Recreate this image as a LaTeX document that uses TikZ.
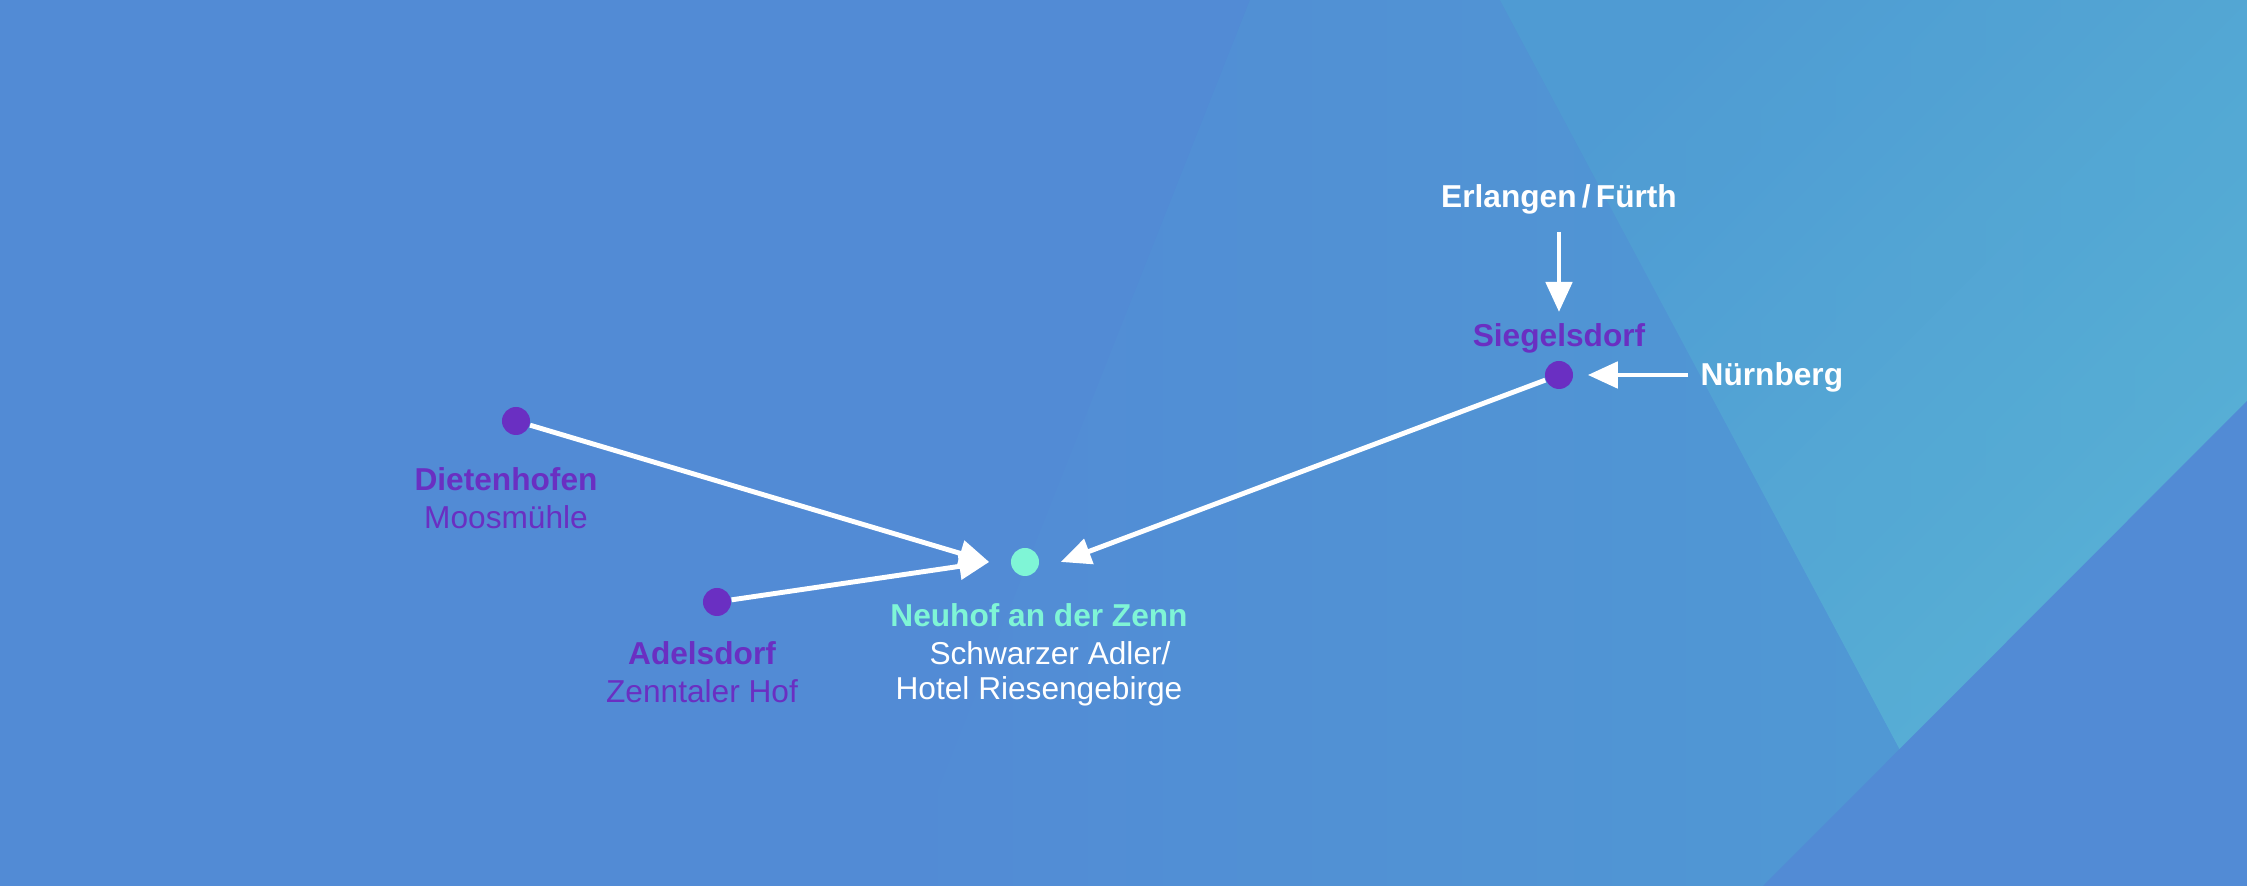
\documentclass[tikz,border=0pt]{standalone}
\usepackage{fontspec}
\setmainfont{Liberation Sans}
\definecolor{bgA}{HTML}{528BD5}
\definecolor{bgB}{HTML}{5AB6D6}
\definecolor{bgM}{HTML}{4F9DD3}
\definecolor{pur}{HTML}{6A2FC2}
\definecolor{teal}{HTML}{7FF5D6}
\tikzset{
  dotp/.style={circle,fill=pur,inner sep=0pt,minimum size=0.28cm},
  dott/.style={circle,fill=teal,inner sep=0pt,minimum size=0.28cm},
  lab/.style={font=\fontsize{9}{11}\selectfont,inner sep=0pt},
  blab/.style={font=\fontsize{9}{11}\selectfont\bfseries,inner sep=0pt},
  conn/.style={white,line width=1.4pt,-{Triangle[length=3mm,width=2.6mm]}}
}
\usetikzlibrary{arrows.meta}
\begin{document}
\begin{tikzpicture}[x=0.01cm,y=-0.01cm]
\useasboundingbox (0,0) rectangle (2247,886);
\fill[bgA] (0,0) rectangle (2247,886);
\shade[left color=bgA,right color=bgM] (900,886) -- (1250,0) -- (2247,0) -- (2247,886) -- cycle;
\shade[left color=bgM,right color=bgB,shading angle=45,opacity=0.8] (1500,0) -- (2247,0) -- (2247,401) -- (1900,750) -- cycle;
\fill[bgA] (2247,401) -- (1763,886) -- (2247,886) -- cycle;
% nodes
\node[dotp] (diet) at (516,421) {};
\node[blab,pur] (dietl) at (506,479) {Dietenhofen};
\node[lab,pur] (dietm) at (506,517) {Moosmühle};
\node[dotp] (adel) at (717,602) {};
\node[blab,pur] (adell) at (702,653) {Adelsdorf};
\node[lab,pur] (adelm) at (702,691) {Zenntaler Hof};
\node[dott] (neu) at (1025,562) {};
\node[blab,teal] (neul) at (1039,615) {Neuhof an der Zenn};
\node[lab,white] (neum) at (1050,653) {Schwarzer Adler/};
\node[lab,white] (neun) at (1039,691) {Hotel Riesengebirge};
\node[dotp] (sieg) at (1559,375) {};
\node[blab,pur] (siegl) at (1559,338) {Siegelsdorf};
\node[blab,white] (erl) at (1559,199) {Erlangen\,/\,Fürth};
\node[blab,white,anchor=west] (nbg) at (1700,377) {Nürnberg};
\coordinate (erlA) at (1559,232);
\coordinate (erlB) at (1559,312);
\coordinate (nbgA) at (1688,375);
% connectors
\draw[conn] (diet) -- ([xshift=-6]neu.west);
\draw[conn] (adel) -- ([xshift=-6]neu.west);
\draw[conn] (sieg) -- ([xshift=6]neu.east);
\draw[conn] (erlA) -- (erlB);
\draw[conn] (nbgA) -- ([xshift=4]sieg.east);
\end{tikzpicture}
\end{document}
